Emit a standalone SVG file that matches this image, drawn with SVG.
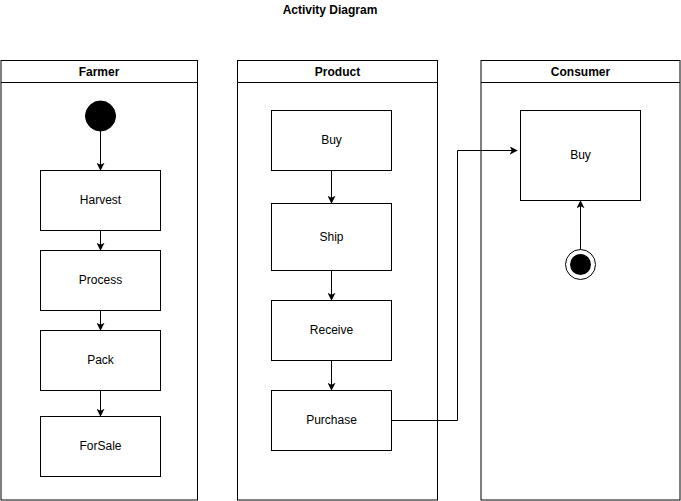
<svg xmlns="http://www.w3.org/2000/svg" width="681" height="501" viewBox="0 0 681 501">
<style>
.lane{fill:#fff;stroke:#000;stroke-width:1}
.box{fill:#fff;stroke:#000;stroke-width:1}
.hdr{font-family:"Liberation Sans",Arial,sans-serif;font-size:12px;font-weight:bold;text-anchor:middle}
.lbl{font-family:"Liberation Sans",Arial,sans-serif;font-size:12px;text-anchor:middle}
.edge{fill:none;stroke:#000;stroke-width:1}
</style>
<defs>
<marker id="arr" viewBox="0 0 10 10" refX="9" refY="5" markerWidth="8" markerHeight="8" markerUnits="userSpaceOnUse" orient="auto">
<path d="M0,0 L10,5 L0,10 L2.5,5 Z" fill="#000"/>
</marker>
</defs>
<rect width="681" height="501" fill="#fff"/>
<text class="hdr" x="330" y="14">Activity Diagram</text>

<g id="lane-farmer">
<rect class="lane" x="1" y="60.5" width="196.5" height="439.5"/>
<line class="edge" x1="1" y1="82.5" x2="197.5" y2="82.5"/>
<text class="hdr" x="99" y="76">Farmer</text>
</g>
<g id="lane-product">
<rect class="lane" x="237.5" y="60.5" width="200" height="439.5"/>
<line class="edge" x1="237.5" y1="82.5" x2="437.5" y2="82.5"/>
<text class="hdr" x="337.5" y="76">Product</text>
</g>
<g id="lane-consumer">
<rect class="lane" x="481" y="60.5" width="199" height="439.5"/>
<line class="edge" x1="481" y1="82.5" x2="680" y2="82.5"/>
<text class="hdr" x="580.5" y="76">Consumer</text>
</g>

<g id="start"><circle cx="100.5" cy="116" r="15" fill="#000" stroke="#000"/></g>
<g id="harvest"><rect class="box" x="40.5" y="170.5" width="120" height="60"/><text class="lbl" x="100.5" y="203.5">Harvest</text></g>
<g id="process"><rect class="box" x="40.5" y="250.5" width="120" height="60"/><text class="lbl" x="100.5" y="283.5">Process</text></g>
<g id="pack"><rect class="box" x="40.5" y="330.5" width="120" height="60"/><text class="lbl" x="100.5" y="363.5">Pack</text></g>
<g id="forsale"><rect class="box" x="40.5" y="416.5" width="120" height="60"/><text class="lbl" x="100.5" y="449.5">ForSale</text></g>

<g id="p-buy"><rect class="box" x="271.5" y="110.5" width="120" height="60"/><text class="lbl" x="331.5" y="143.5">Buy</text></g>
<g id="ship"><rect class="box" x="271.5" y="203.5" width="120" height="67"/><text class="lbl" x="331.5" y="240.5">Ship</text></g>
<g id="receive"><rect class="box" x="271.5" y="300.5" width="120" height="60"/><text class="lbl" x="331.5" y="333.5">Receive</text></g>
<g id="purchase"><rect class="box" x="271.5" y="390.5" width="120" height="60"/><text class="lbl" x="331.5" y="423.5">Purchase</text></g>

<g id="c-buy"><rect class="box" x="520.5" y="110.5" width="120" height="90"/><text class="lbl" x="580.5" y="158.5">Buy</text></g>
<g id="end"><circle cx="580.5" cy="264.5" r="15" fill="#fff" stroke="#000"/><circle cx="580.5" cy="264.5" r="10.5" fill="#000"/></g>

<g id="connectors">
<line class="edge" x1="100.5" y1="131" x2="100.5" y2="170" marker-end="url(#arr)"/>
<line class="edge" x1="100.5" y1="230.5" x2="100.5" y2="250" marker-end="url(#arr)"/>
<line class="edge" x1="100.5" y1="310.5" x2="100.5" y2="330" marker-end="url(#arr)"/>
<line class="edge" x1="100.5" y1="390.5" x2="100.5" y2="416" marker-end="url(#arr)"/>
<line class="edge" x1="331.5" y1="170.5" x2="331.5" y2="203" marker-end="url(#arr)"/>
<line class="edge" x1="331.5" y1="270.5" x2="331.5" y2="300" marker-end="url(#arr)"/>
<line class="edge" x1="331.5" y1="360.5" x2="331.5" y2="390" marker-end="url(#arr)"/>
<polyline class="edge" points="391.5,420.5 457.5,420.5 457.5,150.5 517,150.5" marker-end="url(#arr)"/>
<line class="edge" x1="580.5" y1="249.5" x2="580.5" y2="201" marker-end="url(#arr)"/>
</g>
</svg>
